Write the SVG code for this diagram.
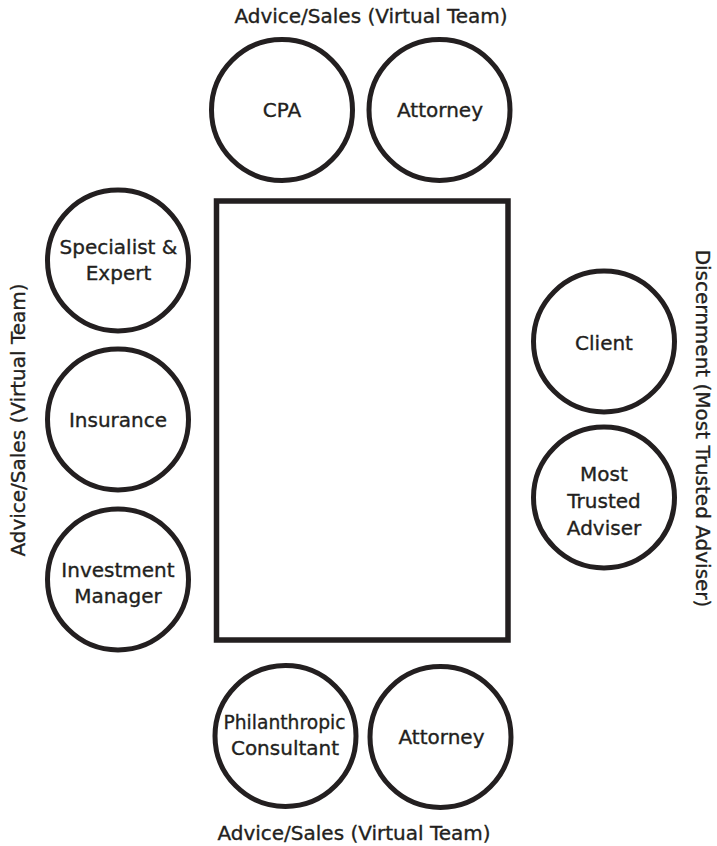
<svg xmlns="http://www.w3.org/2000/svg" width="717" height="846" viewBox="0 0 717 846">
  <style>
    .node circle { fill: #ffffff; stroke: #231f20; stroke-width: 5; }
    .table { fill: #ffffff; stroke: #231f20; stroke-width: 5.5; }
    text { font-family: "DejaVu Sans", "Liberation Sans", sans-serif; font-size: 20px; fill: #231f20; stroke: #231f20; stroke-width: 0.35; text-anchor: middle; }
  </style>
  <rect width="717" height="846" fill="#ffffff"/>

  <g id="table">
    <rect class="table" x="216.5" y="201" width="291.5" height="439"/>
  </g>

  <g id="connectors"></g>

  <g id="group-labels">
    <text x="371" y="22.5">Advice/Sales (Virtual Team)</text>
    <text x="354" y="840">Advice/Sales (Virtual Team)</text>
    <text transform="translate(24.5,420) rotate(-90)">Advice/Sales (Virtual Team)</text>
    <text transform="translate(695.5,428.5) rotate(90)">Discernment (Most Trusted Adviser)</text>
  </g>

  <g id="cpa" class="node">
    <circle cx="282" cy="110" r="70.5"/>
    <text x="282" y="116.5">CPA</text>
  </g>
  <g id="attorney-top" class="node">
    <circle cx="439.5" cy="110" r="70.5"/>
    <text x="440" y="116.5">Attorney</text>
  </g>

  <g id="specialist-expert" class="node">
    <circle cx="118" cy="260.5" r="70.5"/>
    <text x="118.5" y="254">Specialist &amp;</text>
    <text x="118.5" y="280">Expert</text>
  </g>
  <g id="insurance" class="node">
    <circle cx="118" cy="419.5" r="70.5"/>
    <text x="118" y="427">Insurance</text>
  </g>
  <g id="investment-manager" class="node">
    <circle cx="118" cy="579.5" r="70.5"/>
    <text x="118" y="577">Investment</text>
    <text x="118" y="603">Manager</text>
  </g>

  <g id="client" class="node">
    <circle cx="604" cy="341.5" r="70.5"/>
    <text x="604" y="350">Client</text>
  </g>
  <g id="most-trusted-adviser" class="node">
    <circle cx="604" cy="497.5" r="70.5"/>
    <text x="604" y="480.5">Most</text>
    <text x="604" y="507.5">Trusted</text>
    <text x="604" y="534.5">Adviser</text>
  </g>

  <g id="philanthropic-consultant" class="node">
    <circle cx="285.5" cy="736" r="70.5"/>
    <text x="284.5" y="729" textLength="122" lengthAdjust="spacingAndGlyphs">Philanthropic</text>
    <text x="285" y="755">Consultant</text>
  </g>
  <g id="attorney-bottom" class="node">
    <circle cx="440.5" cy="737" r="70.5"/>
    <text x="441.5" y="743.5">Attorney</text>
  </g>
</svg>
